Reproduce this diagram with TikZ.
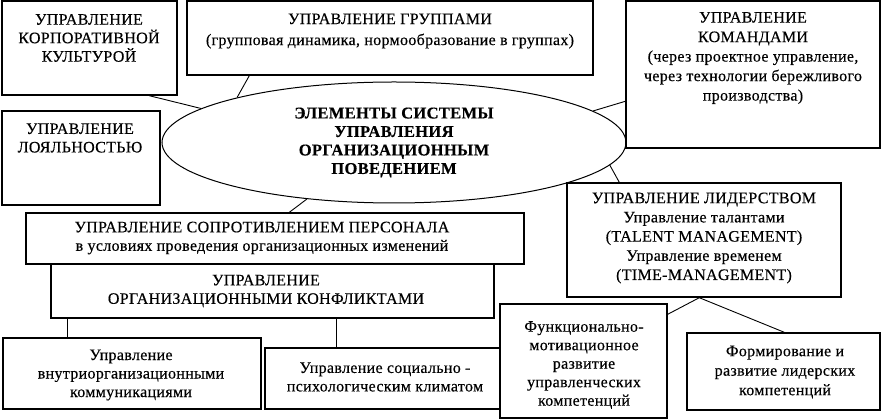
\documentclass[tikz,border=0pt]{standalone}
\usepackage{fontspec}
\setmainfont{Liberation Serif}[LetterSpace=2,FakeBold=0.3]
\usetikzlibrary{fit,shapes.geometric,calc}
\begin{document}
\begin{tikzpicture}[x=1pt,y=-1pt,
  box/.style={draw, line width=1.4pt, fill=white, inner sep=0pt},
  txt/.style={align=center, font=\fontsize{16}{18.5}\selectfont, inner sep=0pt},
  con/.style={line width=0.9pt}]
\useasboundingbox (0,0) rectangle (889,419);
% central ellipse
\node[draw, ellipse, line width=1pt, fill=white, minimum width=464, minimum height=121, inner sep=0pt,
  align=center, font=\fontsize{16.5}{18.5}\selectfont\bfseries] (ell) at (394,142.5)
  {ЭЛЕМЕНТЫ СИСТЕМЫ\\УПРАВЛЕНИЯ\\ОРГАНИЗАЦИОННЫМ\\ПОВЕДЕНИЕМ};
% boxes
\node[box, fit={(2,1) (177,95)}] (kult) {};
\node[box, fit={(187,1) (593,75)}] (grup) {};
\node[box, fit={(626,1) (880,148)}] (kom) {};
\node[box, fit={(2,111) (160,205)}] (loyal) {};
\node[box, fit={(26,213) (524,264)}] (sopr) {};
\node[box, fit={(51,264) (494,318)}] (konf) {};
\node[box, fit={(567,183) (841,297)}] (lid) {};
\node[box, fit={(3,338) (261,409)}] (vnut) {};
\node[box, fit={(265,348) (504,409)}] (soc) {};
\node[box, fit={(500,304) (667,418)}] (func) {};
\node[box, fit={(687,333) (880,410)}] (form) {};
% texts
\node[txt] (tkult) at (89,38) {УПРАВЛЕНИЕ\\КОРПОРАТИВНОЙ\\КУЛЬТУРОЙ};
\node[txt, font=\fontsize{16}{21}\selectfont] (tgrup) at (390,31) {УПРАВЛЕНИЕ ГРУППАМИ\\(групповая динамика, нормообразование в группах)};
\node[txt, font=\fontsize{16}{19.5}\selectfont] (tkom) at (753,58) {УПРАВЛЕНИЕ\\КОМАНДАМИ\\(через проектное управление,\\через технологии бережливого\\производства)};
\node[txt] (tloyal) at (80,138) {УПРАВЛЕНИЕ\\ЛОЯЛЬНОСТЬЮ};
\node[txt] (tsopr) at (262,238) {УПРАВЛЕНИЕ СОПРОТИВЛЕНИЕМ ПЕРСОНАЛА\\в условиях проведения организационных изменений};
\node[txt] (tkonf) at (266,291) {УПРАВЛЕНИЕ\\ОРГАНИЗАЦИОННЫМИ КОНФЛИКТАМИ};
\node[txt, font=\fontsize{16}{19.2}\selectfont] (tlid) at (704,238) {УПРАВЛЕНИЕ ЛИДЕРСТВОМ\\Управление талантами\\(TALENT MANAGEMENT)\\Управление временем\\(TIME-MANAGEMENT)};
\node[txt] (tvnut) at (131,375) {Управление\\внутриорганизационными\\коммуникациями};
\node[txt] (tsoc) at (385,377) {Управление социально -\\психологическим климатом};
\node[txt] (tfunc) at (584,365) {Функционально-\\мотивационное\\развитие\\управленческих\\компетенций};
\node[txt, font=\fontsize{16}{19.5}\selectfont] (tform) at (785,372) {Формирование и\\развитие лидерских\\компетенций};
% connectors
\draw[con] ($(kult.south west)+(148,0)$) -- (ell.170);
\draw[con] ($(grup.south west)+(63,0)$) -- (ell.164);
\draw[con] (ell.9) -- ($(kom.north west)+(0,101)$);
\draw[con] (ell.354) -- ($(lid.north west)+(53,0)$);
\draw[con] (ell.213) -- ($(sopr.north west)+(264,0)$);
\draw[con] ($(konf.south west)+(17,0)$) -- ($(vnut.north west)+(65,0)$);
\draw[con] ($(konf.south west)+(286,0)$) -- ($(soc.north west)+(72,0)$);
\draw[con] ($(lid.south west)+(133,0)$) -- ($(func.north east)+(0,11)$);
\draw[con] ($(lid.south west)+(133,0)$) -- ($(form.north west)+(98,0)$);
\end{tikzpicture}
\end{document}
